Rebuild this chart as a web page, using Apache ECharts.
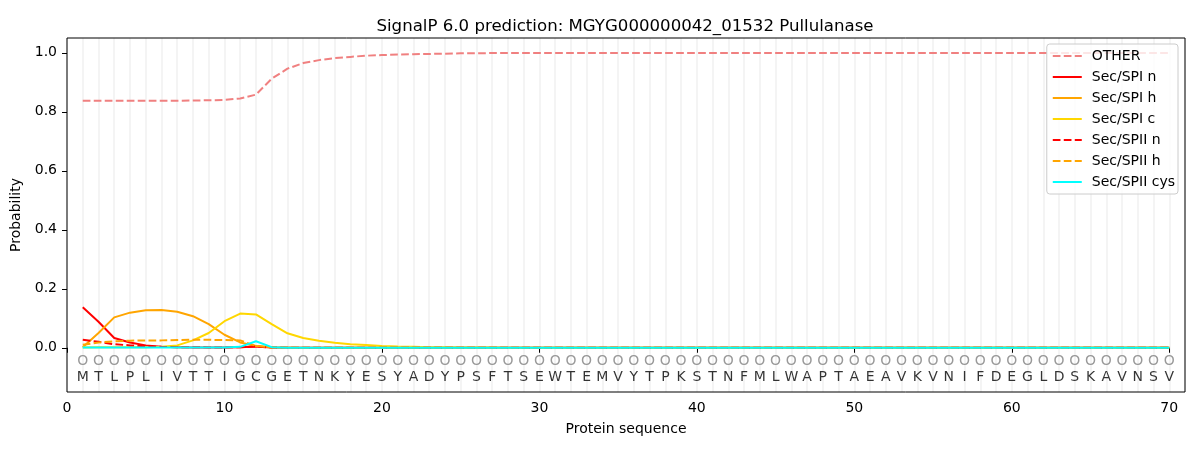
<!DOCTYPE html>
<html><head><meta charset="utf-8">
<script src="https://cdn.jsdelivr.net/npm/echarts@6/dist/echarts.min.js"></script>
<style>html,body{margin:0;padding:0;background:#fff}#c{width:1200px;height:450px}</style>
</head><body><div id="c"></div>
<script>
const sequence = "MTLPLIVTTIGCGETNKYESYADYPSFTSEWTEMVYTPKSTNFMLWAPTAEAVKVNIFDEGLDSKAVNSV".split("");
const positions = sequence.map((_, i) => i + 1);
function pad(arr, v) { const a = arr.slice(); while (a.length < 70) a.push(v); return a; }
const other = pad([0.837,0.837,0.837,0.837,0.837,0.837,0.837,0.838,0.839,0.840,0.845,0.858,0.912,0.946,0.965,0.975,0.982,0.986,0.990,0.992,0.994,0.995,0.996,0.997,0.998,0.998,0.999], 0.999);
const spiN = pad([0.137,0.088,0.033,0.018,0.008,0.003,0.002,0.001,0.001,0.001,0.002,0.004,0.001], 0);
const spiH = pad([0.002,0.050,0.103,0.119,0.127,0.128,0.122,0.107,0.080,0.044,0.018,0.006,0.002,0.001], 0);
const spiC = pad([0.001,0.002,0.002,0.002,0.002,0.003,0.008,0.025,0.050,0.090,0.116,0.113,0.080,0.049,0.033,0.024,0.017,0.012,0.009,0.006,0.004,0.003,0.002,0.002,0.001,0.001,0.001], 0);
const spiiN = pad([0.027,0.020,0.012,0.008,0.005,0.003,0.002,0.002,0.001,0.001,0.002,0.004,0.001], 0);
const spiiH = pad([0.010,0.018,0.022,0.024,0.025,0.025,0.026,0.027,0.027,0.026,0.025,0.006,0.001], 0);
const spiiCys = pad([0.001,0.001,0.001,0.001,0.001,0.001,0.001,0.001,0.001,0.001,0.003,0.022,0.002], 0);
const xTicks = [0,10,20,30,40,50,60,70];
const yTicks = [0,0.2,0.4,0.6,0.8,1.0];
const circleY = -0.046, letterY = -0.10;

const FONT = "DejaVu Sans";
const dash = [7.7, 3.3];
function line(name, data, color, dashed) {
  return {
    name, type: 'line', xAxisIndex: 0, yAxisIndex: 0, symbol: 'none', smooth: false,
    data: positions.map((x, i) => [x, data[i]]),
    lineStyle: { color, width: 2, type: dashed ? dash : 'solid' },
    itemStyle: { color }, z: 3, animation: false
  };
}
const chart = echarts.init(document.getElementById('c'), null, { renderer: 'canvas' });
chart.setOption({
  animation: false,
  textStyle: { fontFamily: FONT },
  title: { text: "SignalP 6.0 prediction: MGYG000000042_01532 Pullulanase", left: 620, textAlign: 'center', top: 13,
    textStyle: { fontFamily: FONT, fontSize: 16.6, fontWeight: 'normal', color: '#000' } },
  grid: { left: 67, right: 15, top: 38, bottom: 58, show: true, borderColor: '#000', borderWidth: 1, backgroundColor: 'transparent', z: 5 },
  legend: {
    orient: 'vertical', right: 22, top: 44, padding: [5, 3, 5, 5], itemGap: 7, itemWidth: 29, itemHeight: 14,
    backgroundColor: 'rgba(255,255,255,0.8)', borderColor: '#cccccc', borderWidth: 1, borderRadius: 3,
    itemStyle: { opacity: 0 },
    textStyle: { fontFamily: FONT, fontSize: 14, color: '#000', padding: [0, 0, 0, 5] },
    data: ['OTHER','Sec/SPI n','Sec/SPI h','Sec/SPI c','Sec/SPII n','Sec/SPII h','Sec/SPII cys']
  },
  xAxis: [
    { type: 'value', min: 0, max: 71, interval: 10, name: 'Protein sequence', nameLocation: 'middle', nameGap: 30,
      nameTextStyle: { fontFamily: FONT, fontSize: 14, color: '#000' },
      axisLine: { show: false }, splitLine: { show: false },
      axisTick: { show: true, length: 5, lineStyle: { color: '#000' }, customValues: xTicks },
      axisLabel: { fontFamily: FONT, fontSize: 14, color: '#000', margin: 9, customValues: xTicks } },
    { type: 'value', min: 0, max: 71, interval: 1, show: true, position: 'bottom',
      axisLine: { show: false }, axisTick: { show: false }, axisLabel: { show: false },
      splitLine: { show: true, lineStyle: { color: '#f4f4f4', width: 2 } } }
  ],
  yAxis: [
    { type: 'value', min: -0.15, max: 1.05, name: 'Probability', nameLocation: 'middle', nameGap: 43,
      nameTextStyle: { fontFamily: FONT, fontSize: 14, color: '#000' },
      axisLine: { show: false }, splitLine: { show: false },
      axisTick: { show: true, length: 5, lineStyle: { color: '#000' }, customValues: yTicks },
      axisLabel: { fontFamily: FONT, fontSize: 14, color: '#000', margin: 10, customValues: yTicks,
        formatter: v => v.toFixed(1) } }
  ],
  series: [
    line('OTHER', other, '#f08080', true),
    line('Sec/SPI n', spiN, '#ff0000', false),
    line('Sec/SPI h', spiH, '#ffa500', false),
    line('Sec/SPI c', spiC, '#ffd700', false),
    line('Sec/SPII n', spiiN, '#ff0000', true),
    line('Sec/SPII h', spiiH, '#ffa500', true),
    line('Sec/SPII cys', spiiCys, '#00ffff', false),
    { type: 'scatter', xAxisIndex: 0, yAxisIndex: 0, symbolSize: 0, silent: true, z: 4,
      data: positions.map(x => [x, circleY, 'O']),
      label: { show: true, position: 'inside', formatter: p => p.data[2], fontFamily: FONT, fontSize: 14, color: '#808080' } },
    { type: 'scatter', xAxisIndex: 0, yAxisIndex: 0, symbolSize: 0, silent: true, z: 4,
      data: positions.map((x, i) => [x, letterY, sequence[i]]),
      label: { show: true, position: 'inside', formatter: p => p.data[2], fontFamily: FONT, fontSize: 14, color: '#000' } }
  ]
});
</script></body></html>
